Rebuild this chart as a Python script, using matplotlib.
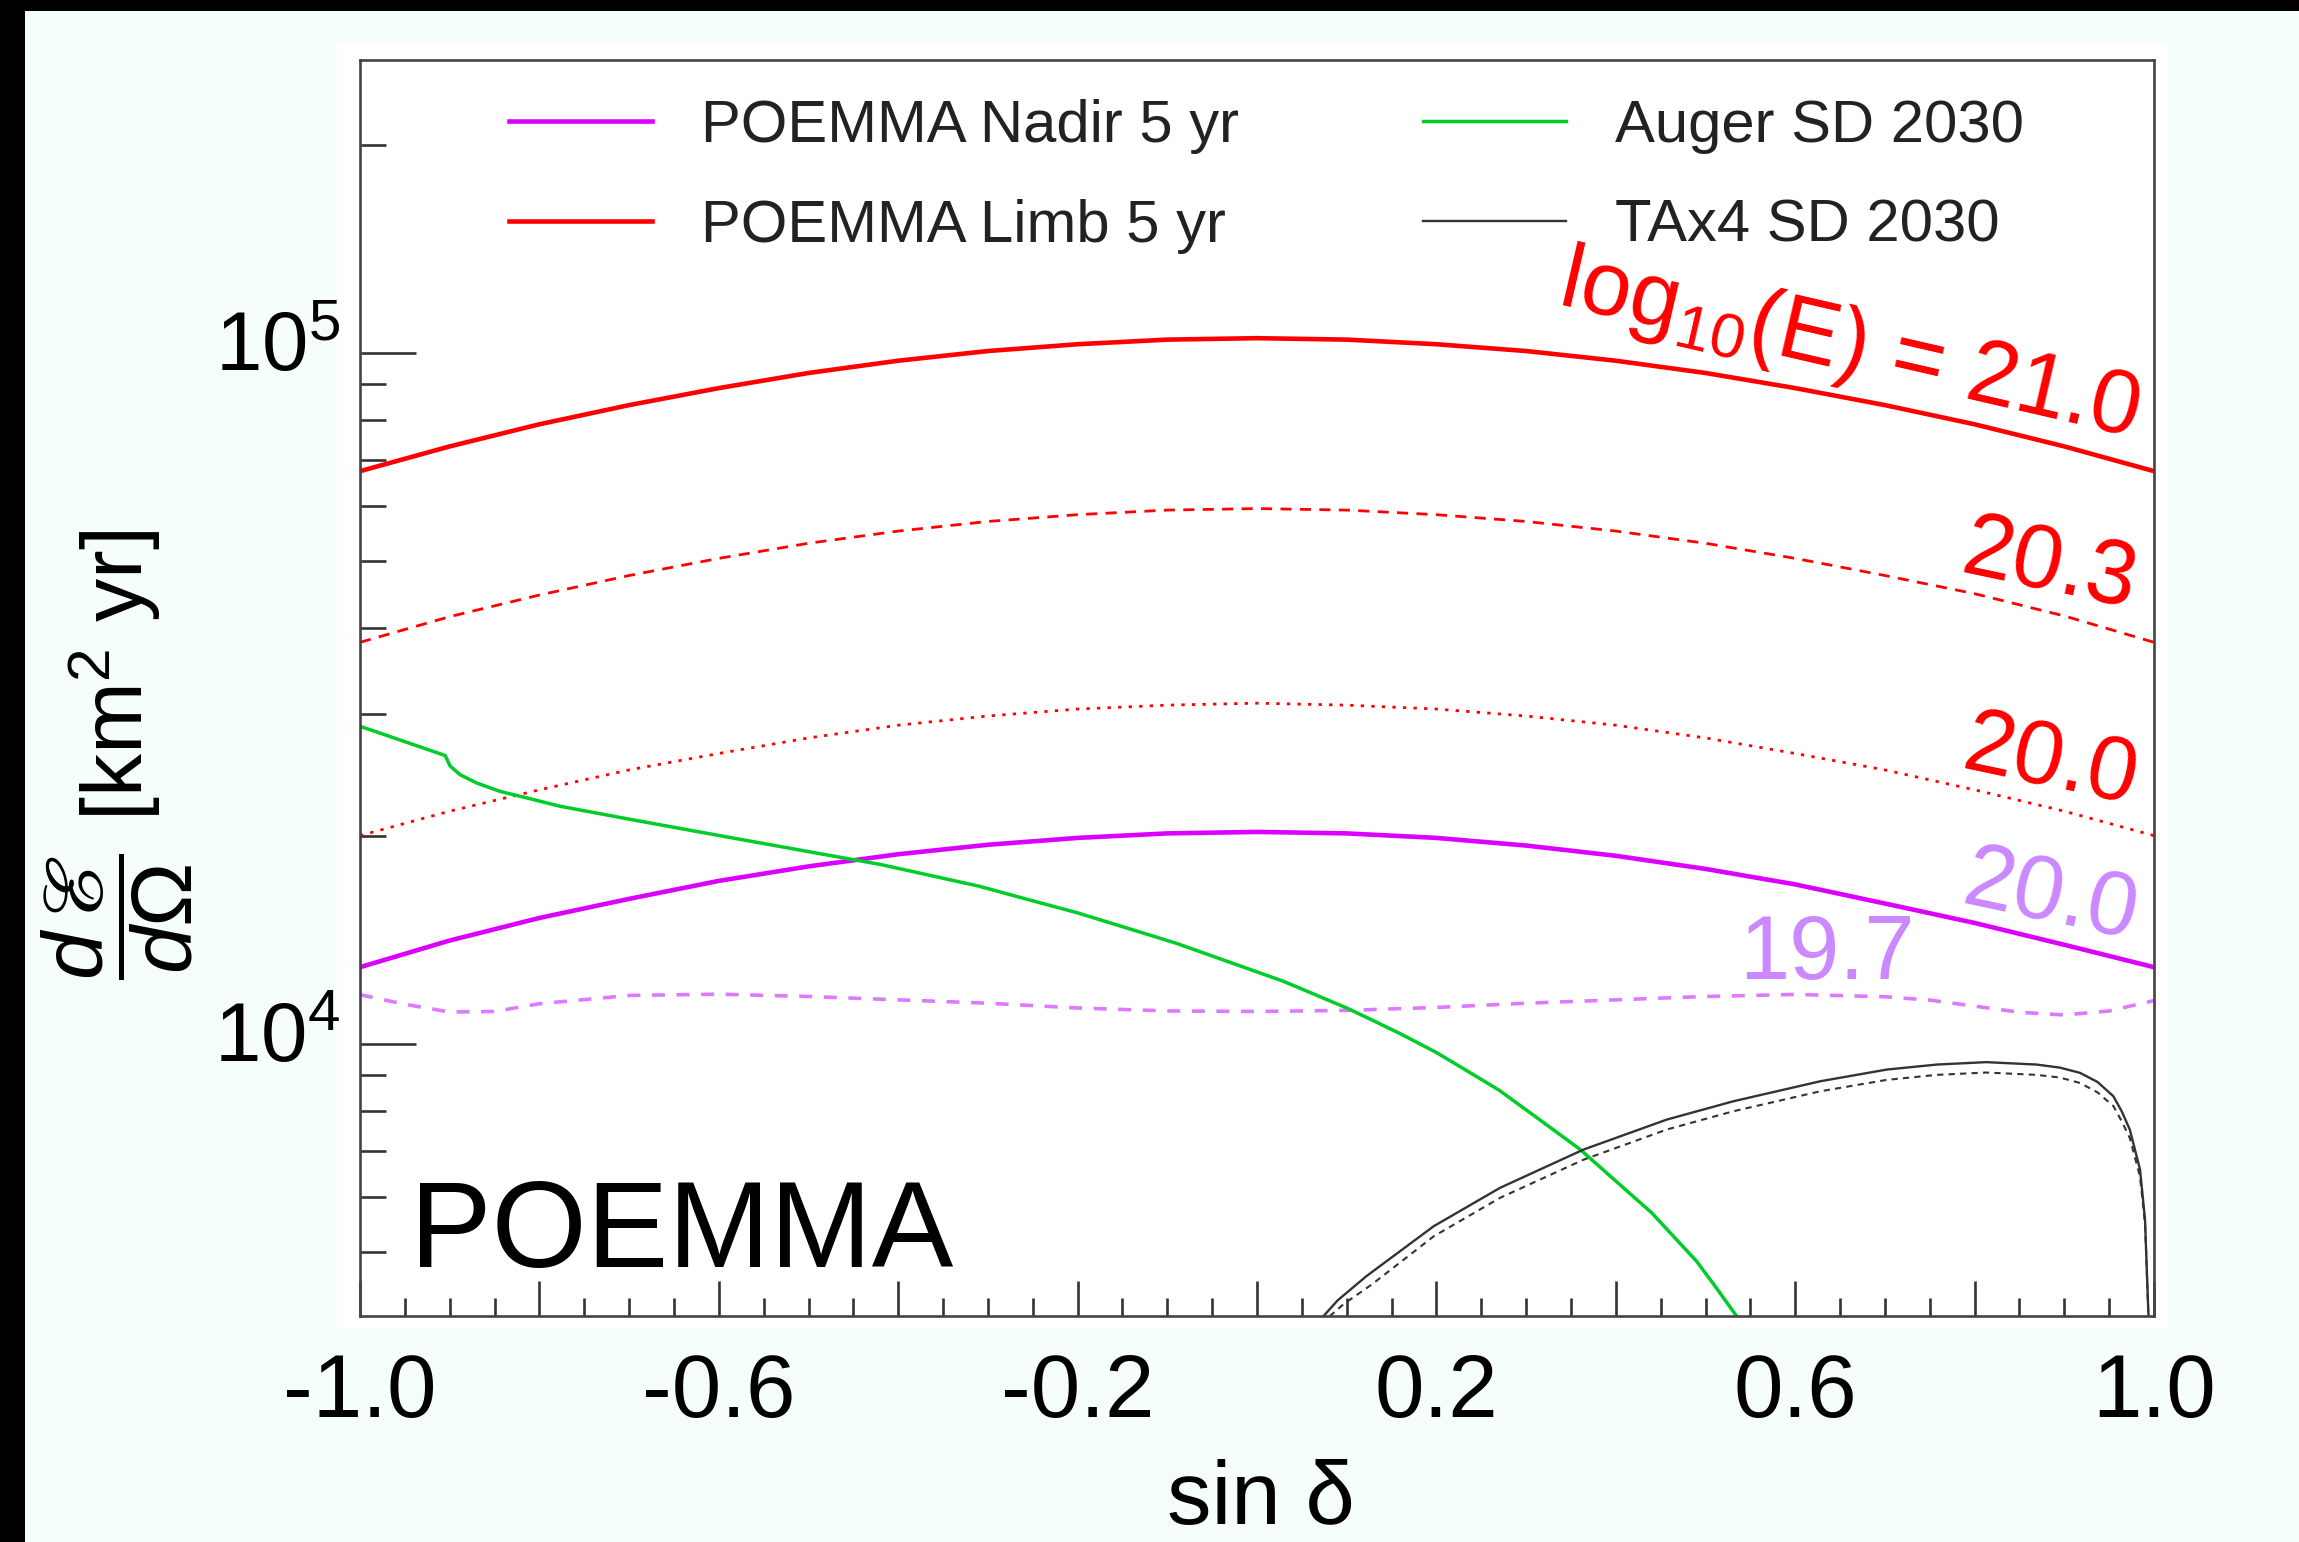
import numpy as np
import matplotlib
matplotlib.use('Agg')
import matplotlib.pyplot as plt
import matplotlib.transforms as mtransforms
from matplotlib.patches import Rectangle
from matplotlib.ticker import FixedLocator, FixedFormatter, NullFormatter

plt.rcParams['font.family'] = ['Liberation Sans', 'DejaVu Sans']
plt.rcParams['mathtext.fontset'] = 'custom'
plt.rcParams['mathtext.rm'] = 'Liberation Sans'
plt.rcParams['mathtext.it'] = 'Liberation Sans:italic'
plt.rcParams['mathtext.bf'] = 'Liberation Sans:bold'
plt.rcParams['mathtext.sf'] = 'Liberation Sans'
plt.rcParams['mathtext.fallback'] = 'stix'

# ---------------- data ----------------
x_geo = [-1.0, -0.9, -0.8, -0.7, -0.6, -0.5, -0.4, -0.3, -0.2, -0.1, 0.0,
         0.1, 0.2, 0.3, 0.4, 0.5, 0.6, 0.7, 0.8, 0.9, 1.0]
limb_210 = [67400, 73200, 78800, 84000, 88900, 93500, 97400, 100600, 102900, 104500, 105000,
            104500, 102900, 100600, 97400, 93500, 88900, 84000, 78800, 73200, 67400]
limb_203 = [38100, 41500, 44600, 47600, 50400, 53000, 55200, 57000, 58300, 59200, 59500,
            59200, 58300, 57000, 55200, 53000, 50400, 47600, 44800, 41600, 38100]
limb_200 = [20000, 21700, 23300, 24900, 26300, 27700, 28900, 29800, 30500, 30900, 31100,
            30900, 30500, 29800, 28900, 27700, 26300, 24900, 23300, 21700, 20000]
nadir_200 = [12900, 14100, 15200, 16200, 17200, 18050, 18800, 19400, 19850, 20150, 20250,
             20150, 19850, 19350, 18700, 17900, 17000, 15950, 14950, 13900, 12900]

x_nadir_197 = [-1.0, -0.95, -0.9, -0.85, -0.8, -0.7, -0.6, -0.5, -0.4, -0.3, -0.2, -0.1, 0.0,
               0.1, 0.2, 0.3, 0.4, 0.5, 0.6, 0.7, 0.75, 0.8, 0.85, 0.9, 0.95, 1.0]
nadir_197 = [11770, 11400, 11110, 11130, 11420, 11740, 11790, 11700, 11570, 11440, 11260, 11150, 11130,
             11170, 11280, 11440, 11570, 11700, 11780, 11690, 11560, 11330, 11100, 11000, 11150, 11540]

x_auger = [-1.0, -0.905, -0.8997, -0.894, -0.8885, -0.8774, -0.870, -0.844, -0.814, -0.777,
           -0.70, -0.63, -0.55, -0.48, -0.42, -0.31, -0.255, -0.20, -0.145, -0.09, -0.03,
           0.03, 0.065, 0.10, 0.13, 0.16, 0.20, 0.235, 0.27, 0.315, 0.36, 0.40, 0.44,
           0.465, 0.49, 0.51, 0.53, 0.55]
auger_sd = [28800, 26120, 25250, 24860, 24510, 24100, 23840, 23180, 22680, 22060,
            21130, 20340, 19480, 18760, 18170, 16900, 16160, 15460, 14700, 13970, 13110,
            12300, 11770, 11260, 10790, 10330, 9707, 9118, 8560, 7760, 7031, 6324, 5689,
            5248, 4842, 4467, 4110, 3780]

x_ta = [0.074, 0.09, 0.122, 0.197, 0.271, 0.364, 0.457, 0.531, 0.628, 0.702, 0.758, 0.813,
        0.869, 0.895, 0.9175, 0.937, 0.9547, 0.964, 0.973, 0.9844, 0.990, 0.9937, 0.996]
ta_sd = [4030, 4250, 4606, 5440, 6183, 7024, 7763, 8250, 8820, 9170, 9325, 9400,
         9325, 9230, 9070, 8800, 8390, 7980, 7510, 6573, 5563, 4076, 3850]
x_ta_b = [0.081, 0.097, 0.128, 0.197, 0.271, 0.364, 0.457, 0.531, 0.628, 0.702, 0.758, 0.813,
          0.869, 0.895, 0.9175, 0.937, 0.9547, 0.964, 0.973, 0.9844, 0.990, 0.9937, 0.996]
ta_sd_b = [4030, 4200, 4480, 5260, 5980, 6790, 7510, 7980, 8530, 8860, 9010, 9080,
           9010, 8930, 8770, 8500, 8120, 7720, 7300, 6420, 5480, 4060, 3850]

legend_labels = ['POEMMA Nadir 5 yr', 'POEMMA Limb 5 yr', 'Auger SD 2030', 'TAx4 SD 2030']
xtick_major = [-1.0, -0.8, -0.6, -0.4, -0.2, 0.0, 0.2, 0.4, 0.6, 0.8, 1.0]
xtick_labels = ['-1.0', '', '-0.6', '', '-0.2', '', '0.2', '', '0.6', '', '1.0']
ytick_vals = [1e4, 1e5]
ytick_labels = [r'$10^{4}$', r'$10^{5}$']

# ---------------- figure ----------------
W, H = 2299, 1542
MINT = '#f5fef9'
fig = plt.figure(figsize=(W / 100, H / 100), dpi=100, facecolor=MINT)

# white canvas pad and black borders
fig.add_artist(Rectangle((337 / W, 1 - 1328 / H), (2168 - 337) / W, (1328 - 43) / H,
                         transform=fig.transFigure, facecolor='white', edgecolor='none', zorder=0))
fig.add_artist(Rectangle((0, 1 - 11 / H), 1, 11 / H, transform=fig.transFigure,
                         facecolor='black', edgecolor='none', zorder=0))
fig.add_artist(Rectangle((0, 0), 25 / W, 1, transform=fig.transFigure,
                         facecolor='black', edgecolor='none', zorder=0))

ax = fig.add_axes([360 / W, 1 - 1316 / H, 1794 / W, 1256 / H])
ax.set_facecolor('white')
ax.set_yscale('log')
ax.set_xlim(-1.0, 1.0)
ax.set_ylim(4033, 2.654e5)

RED = '#ff0000'
MAG = '#dc00ff'
MAG_L = '#dd7aff'
GREEN = '#00cc2a'
DARK = '#333333'

l_nadir, = ax.plot(x_geo, nadir_200, color=MAG, lw=3.3)
ax.plot(x_nadir_197, nadir_197, color=MAG_L, lw=2.6, linestyle=(0, (3.6, 3.2)))
l_limb, = ax.plot(x_geo, limb_210, color=RED, lw=3.3)
ax.plot(x_geo, limb_203, color=RED, lw=2.0, linestyle=(0, (4, 3)))
ax.plot(x_geo, limb_200, color=RED, lw=2.0, linestyle=(0, (1.2, 2.6)))
l_auger, = ax.plot(x_auger, auger_sd, color=GREEN, lw=2.5)
l_ta, = ax.plot(x_ta, ta_sd, color=DARK, lw=1.7)
ax.plot(x_ta_b, ta_sd_b, color=DARK, lw=1.5, linestyle=(0, (3, 2.5)))

# spines & ticks
for s in ax.spines.values():
    s.set_color('#444444')
    s.set_linewidth(1.9)
ax.xaxis.set_major_locator(FixedLocator(xtick_major))
ax.xaxis.set_minor_locator(FixedLocator(list(np.round(np.arange(-1.0, 1.0001, 0.05), 3))))
ax.xaxis.set_major_formatter(FixedFormatter(xtick_labels))
ax.xaxis.set_minor_formatter(NullFormatter())
ax.yaxis.set_major_locator(FixedLocator(ytick_vals))
ax.yaxis.set_major_formatter(FixedFormatter(ytick_labels))
minor_y = [m * 10 ** e for e in (3, 4, 5) for m in range(2, 10) if 4033 < m * 10 ** e < 2.654e5]
ax.yaxis.set_minor_locator(FixedLocator(minor_y))
ax.yaxis.set_minor_formatter(NullFormatter())

ax.tick_params(axis='both', which='both', direction='in', top=False, right=False,
               color=DARK, width=1.9)
ax.tick_params(axis='x', which='major', length=25, labelsize=64, pad=26)
ax.tick_params(axis='x', which='minor', length=13)
ax.tick_params(axis='y', which='major', length=40, labelsize=60, pad=14)
ax.tick_params(axis='y', which='minor', length=19)

offset = mtransforms.ScaledTranslation(0, 12 / 100, fig.dpi_scale_trans)
for lab in ax.yaxis.get_majorticklabels():
    lab.set_transform(lab.get_transform() + offset)

# axis labels
fig.text(1261 / W, 1 - 1501 / H, 'sin δ', fontsize=64, ha='center', va='center')
fig.text(117 / W, 1 - 755 / H, r'$\dfrac{d\,ℰ}{d\Omega}$ [km$^2$ yr]', fontsize=62,
         rotation=90, ha='center', va='center')

# legend
leg = ax.legend([l_nadir, l_limb, l_auger, l_ta], legend_labels, ncol=2, frameon=False,
                loc='upper left', bbox_to_anchor=(0.0831, 0.969), borderpad=0, borderaxespad=0,
                fontsize=43, handlelength=2.4, handletextpad=0.82, columnspacing=3.07,
                labelspacing=0.75)
for t in leg.get_texts():
    t.set_color('#222222')

# curve annotations
ax.text(0.660, 101800, r'log$_{10}$(E) = 21.0', color=RED, fontsize=65, rotation=-13,
        ha='center', va='center', rotation_mode='anchor')
ax.text(0.884, 48950, '20.3', color=RED, fontsize=65, rotation=-12,
        ha='center', va='center', rotation_mode='anchor')
ax.text(0.885, 25420, '20.0', color=RED, fontsize=65, rotation=-12,
        ha='center', va='center', rotation_mode='anchor')
ax.text(0.885, 16210, '20.0', color='#cc88ff', fontsize=65, rotation=-12,
        ha='center', va='center', rotation_mode='anchor')
ax.text(0.635, 13410, '19.7', color='#cc88ff', fontsize=65,
        ha='center', va='center')
ax.text(-0.944, 4745, 'POEMMA', color='black', fontsize=88, ha='left', va='baseline')

fig.savefig('out.png', dpi=100, facecolor=fig.get_facecolor())
